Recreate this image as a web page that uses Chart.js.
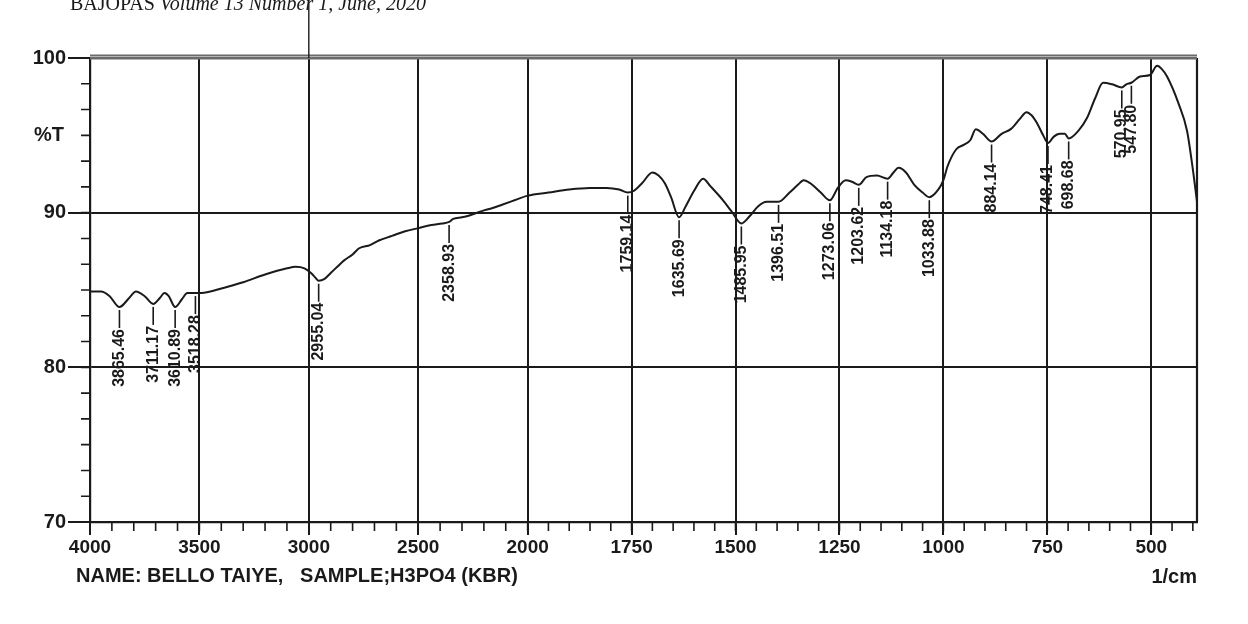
<!DOCTYPE html>
<html>
<head>
<meta charset="utf-8">
<script src="https://cdn.jsdelivr.net/npm/chart.js@4.4.1/dist/chart.umd.min.js"></script>
<style>
  html, body { margin: 0; padding: 0; background: #fff; }
  canvas { display: block; }
</style>
</head>
<body>
<canvas id="irChart" width="1248" height="624"></canvas>
<script>
// FTIR spectrum, wavenumber (1/cm) vs %T
const wavenumbers = [
  4000, 3950, 3910, 3865.46, 3820, 3790, 3750, 3711.17, 3680, 3660, 3640, 3610.89, 3580, 3555, 3518.28, 3500,
  3450, 3400, 3300, 3200, 3100, 3060, 3020, 2990, 2970, 2955.04, 2930, 2900, 2870, 2840, 2800, 2770,
  2720, 2680, 2620, 2560, 2500, 2440, 2390, 2358.93, 2340, 2300, 2270, 2210, 2160, 2120, 2060, 2000,
  1950, 1900, 1850, 1810, 1780, 1759.14, 1745, 1725, 1700, 1685, 1670, 1655, 1635.69, 1620, 1600, 1578,
  1560, 1530, 1510, 1485.95, 1465, 1446, 1425, 1396.51, 1370, 1350, 1336, 1320, 1295, 1273.06, 1254, 1235,
  1220, 1203.62, 1185, 1160, 1134.18, 1120, 1108, 1090, 1070, 1050, 1033.88, 1012, 1000, 990, 969, 950,
  935, 922, 905, 884.14, 860, 838, 815, 800, 788, 775, 760, 748.41, 735, 720, 708, 698.68,
  675, 655, 635, 616, 594, 570.95, 560, 547.80, 527, 503, 486, 475, 462, 435, 414, 400, 390
];
const transmittance = [
  84.9, 84.9, 84.6, 83.9, 84.5, 84.9, 84.6, 84.1, 84.5, 84.8, 84.6, 83.9, 84.4, 84.8, 84.8, 84.8,
  84.9, 85.1, 85.5, 86.0, 86.4, 86.5, 86.4, 86.1, 85.8, 85.6, 85.7, 86.1, 86.5, 86.9, 87.3, 87.7,
  87.9, 88.2, 88.5, 88.8, 89.0, 89.2, 89.3, 89.4, 89.6, 89.7, 89.8, 90.1, 90.3, 90.5, 90.8, 91.1,
  91.3, 91.5, 91.6, 91.6, 91.5, 91.3, 91.4, 91.9, 92.6, 92.4, 91.9, 91.0, 89.7, 90.4, 91.4, 92.2,
  91.7, 90.8, 90.1, 89.3, 89.8, 90.4, 90.7, 90.7, 91.3, 91.8, 92.1, 91.9, 91.3, 90.8, 91.6, 92.1,
  92.0, 91.8, 92.3, 92.4, 92.2, 92.6, 92.9, 92.6, 91.8, 91.3, 91.0, 91.5, 92.1, 93.0, 94.1, 94.4,
  94.7, 95.4, 95.1, 94.6, 95.1, 95.4, 96.1, 96.5, 96.3, 95.8, 95.0, 94.5, 94.9, 95.1, 95.1, 94.8,
  95.3, 96.1, 97.4, 98.4, 98.3, 98.1, 98.3, 98.4, 98.8, 98.9, 99.5, 99.3, 98.8, 97.1, 95.3, 92.8, 90.7
];
const peakLabels = [
  '3865.46', '3711.17', '3610.89', '3518.28', '2955.04', '2358.93', '1759.14', '1635.69', '1485.95',
  '1396.51', '1273.06', '1203.62', '1134.18', '1033.88', '884.14', '748.41', '698.68', '570.95', '547.80'
];
const xTickValues = [4000, 3500, 3000, 2500, 2000, 1750, 1500, 1250, 1000, 750, 500];
const xTickLabels = ['4000', '3500', '3000', '2500', '2000', '1750', '1500', '1250', '1000', '750', '500'];
const yTickValues = [70, 80, 90, 100];

// the recorder uses 500/div above 2000 and 250/div below it
const toAxis = (w) => w >= 2000 ? (4000 - w) / 500 : 4 + (2000 - w) / 250 * 0.95;

const INK = '#1a1a1a';
const BOLD = 'bold 20px "Liberation Sans", Arial, sans-serif';

const spectrumDecor = {
  id: 'spectrumDecor',
  afterDraw(chart) {
    const { ctx, chartArea: a, scales: { x, y } } = chart;
    ctx.save();
    ctx.strokeStyle = INK;
    ctx.fillStyle = INK;

    // minor x ticks: 100 steps above 2000, 50 steps below
    ctx.lineWidth = 1.6;
    ctx.beginPath();
    for (let w = 4000; w >= 400; w -= (w > 2000 ? 100 : 50)) {
      const px = x.getPixelForValue(toAxis(w));
      ctx.moveTo(px, a.bottom);
      ctx.lineTo(px, a.bottom + 9);
    }
    // minor y ticks, six per decade
    for (let v = 70; v < 100; v += 10 / 6) {
      const py = y.getPixelForValue(v);
      ctx.moveTo(a.left, py);
      ctx.lineTo(a.left - 9, py);
    }
    ctx.stroke();

    // right frame
    ctx.lineWidth = 2.2;
    ctx.beginPath();
    ctx.moveTo(a.right, a.top);
    ctx.lineTo(a.right, a.bottom);
    ctx.stroke();

    // thick double top rule
    ctx.strokeStyle = '#6a6a6a';
    ctx.lineWidth = 5;
    ctx.beginPath();
    ctx.moveTo(a.left, a.top - 1);
    ctx.lineTo(a.right, a.top - 1);
    ctx.stroke();
    ctx.strokeStyle = '#b5b5b5';
    ctx.lineWidth = 1.2;
    ctx.beginPath();
    ctx.moveTo(a.left, a.top - 1.5);
    ctx.lineTo(a.right, a.top - 1.5);
    ctx.stroke();

    // 3000 line runs up past the frame on the scan
    ctx.strokeStyle = INK;
    ctx.lineWidth = 1.4;
    const x3000 = x.getPixelForValue(toAxis(3000));
    ctx.beginPath();
    ctx.moveTo(x3000, 0);
    ctx.lineTo(x3000, a.top);
    ctx.stroke();

    // peak picks: leader plus vertical number
    ctx.font = 'bold 16px "Liberation Sans", Arial, sans-serif';
    ctx.textAlign = 'right';
    ctx.textBaseline = 'middle';
    ctx.lineWidth = 1.6;
    peakLabels.forEach(label => {
      const idx = wavenumbers.indexOf(parseFloat(label));
      if (idx < 0) return;
      const px = x.getPixelForValue(toAxis(wavenumbers[idx]));
      const py = y.getPixelForValue(transmittance[idx]) + 3;
      ctx.beginPath();
      ctx.moveTo(px, py);
      ctx.lineTo(px, py + 18);
      ctx.stroke();
      ctx.save();
      ctx.translate(px, py + 19);
      ctx.rotate(-Math.PI / 2);
      ctx.fillText(label, 0, 0);
      ctx.restore();
    });

    // axis captions
    ctx.font = BOLD;
    ctx.textAlign = 'left';
    ctx.textBaseline = 'middle';
    ctx.fillText('%T', 34, y.getPixelForValue(95));
    ctx.fillText('NAME: BELLO TAIYE,   SAMPLE;H3PO4 (KBR)', 76, 576);
    ctx.textAlign = 'right';
    ctx.fillText('1/cm', a.right, 577);

    // journal header, cut off by the page edge
    ctx.textAlign = 'left';
    ctx.textBaseline = 'alphabetic';
    ctx.font = '20px "Liberation Serif", "Times New Roman", serif';
    ctx.fillText('BAJOPAS ', 70, 10);
    const off = ctx.measureText('BAJOPAS ').width;
    ctx.font = 'italic 20px "Liberation Serif", "Times New Roman", serif';
    ctx.fillText('Volume 13 Number 1, June, 2020', 70 + off, 10);
    ctx.restore();
  }
};

const whiteBg = {
  id: 'whiteBg',
  beforeDraw(chart) {
    const { ctx, width, height } = chart;
    ctx.save();
    ctx.fillStyle = '#fff';
    ctx.fillRect(0, 0, width, height);
    ctx.restore();
  }
};

new Chart(document.getElementById('irChart').getContext('2d'), {
  type: 'line',
  data: {
    datasets: [{
      data: wavenumbers.map((w, i) => ({ x: toAxis(w), y: transmittance[i] })),
      borderColor: INK,
      borderWidth: 2,
      pointRadius: 0,
      cubicInterpolationMode: 'monotone',
      fill: false
    }]
  },
  options: {
    responsive: false,
    animation: false,
    layout: { padding: { top: 58, right: 51, left: 0, bottom: 0 } },
    plugins: { legend: { display: false }, tooltip: { enabled: false } },
    scales: {
      x: {
        type: 'linear',
        min: 0,
        max: toAxis(390),
        afterBuildTicks: (scale) => { scale.ticks = xTickValues.map(w => ({ value: toAxis(w) })); },
        afterFit: (scale) => { scale.height = 102; },
        ticks: {
          autoSkip: false,
          maxRotation: 0,
          padding: 1,
          color: INK,
          font: { family: '"Liberation Sans", Arial, sans-serif', size: 19, weight: 'bold' },
          callback: (value, index) => xTickLabels[index]
        },
        grid: { color: INK, lineWidth: 2, tickLength: 13 },
        border: { color: INK, width: 2.2 }
      },
      y: {
        min: 70,
        max: 100,
        afterBuildTicks: (scale) => { scale.ticks = yTickValues.map(v => ({ value: v })); },
        afterFit: (scale) => { scale.width = 90; },
        ticks: {
          padding: 2,
          color: INK,
          font: { family: '"Liberation Sans", Arial, sans-serif', size: 20, weight: 'bold' },
          callback: (value) => String(value)
        },
        grid: { color: INK, lineWidth: 2, tickLength: 22 },
        border: { color: INK, width: 2.2 }
      }
    }
  },
  plugins: [whiteBg, spectrumDecor]
});
</script>
</body>
</html>
